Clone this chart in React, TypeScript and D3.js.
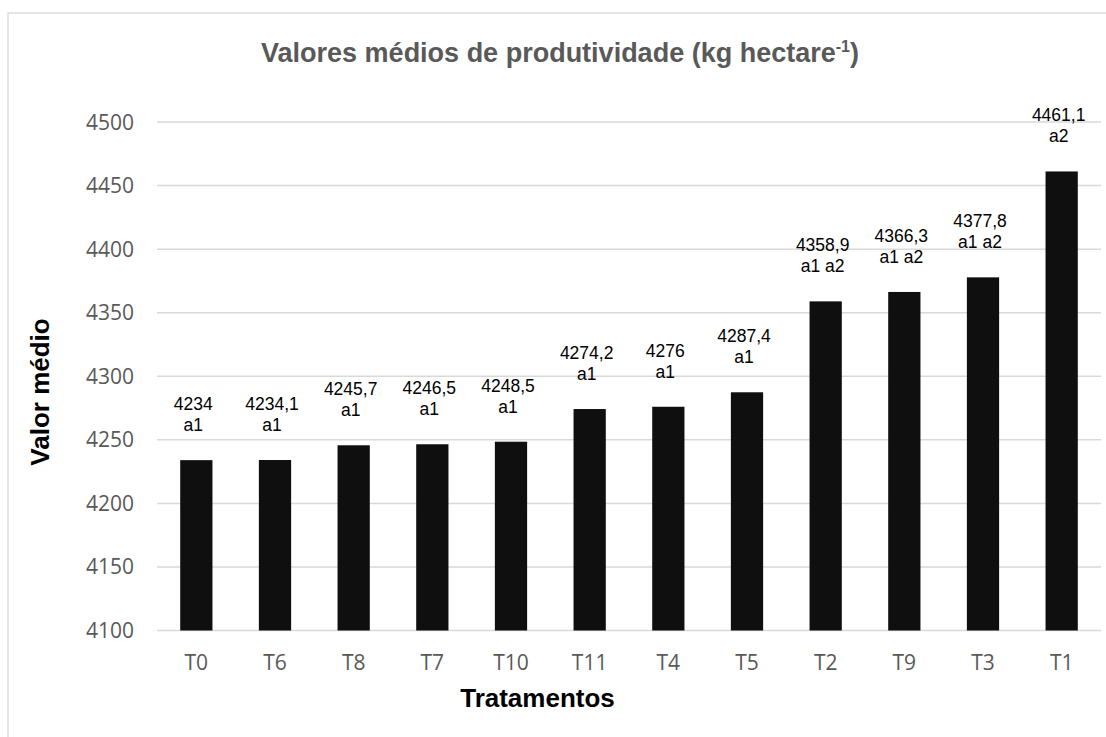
import React from "react";
import * as d3 from "d3";

const categories = ["T0", "T6", "T8", "T7", "T10", "T11", "T4", "T5", "T2", "T9", "T3", "T1"];
const values = [4234, 4234.1, 4245.7, 4246.5, 4248.5, 4274.2, 4276, 4287.4, 4358.9, 4366.3, 4377.8, 4461.1];
const valueLabels = ["4234", "4234,1", "4245,7", "4246,5", "4248,5", "4274,2", "4276", "4287,4", "4358,9", "4366,3", "4377,8", "4461,1"];
const groupLabels = ["a1", "a1", "a1", "a1", "a1", "a1", "a1", "a1", "a1 a2", "a1 a2", "a1 a2", "a2"];
const yTicks = [4100, 4150, 4200, 4250, 4300, 4350, 4400, 4450, 4500];

const W = 1106;
const H = 737;
const plot = { left: 157, right: 1101, top: 122, bottom: 630.5 };

export default function App() {
  const x = d3.scaleBand<string>().domain(categories).range([plot.left, plot.right]).paddingInner(0.59).paddingOuter(0.295);
  const y = d3.scaleLinear().domain([4100, 4500]).range([plot.bottom, plot.top]);
  const tickFont = "'Open Sans', sans-serif";
  const arial = "'Liberation Sans', Arial, sans-serif";
  return (
    <svg width={W} height={H} style={{ position: "absolute", left: 0, top: 0 }}>
      <rect x={0} y={0} width={W} height={H} fill="#fff" />
      <rect x={8} y={13} width={W + 20} height={H + 20} fill="none" stroke="#d9d9d9" strokeWidth={1.3} />
      <text x={560} y={62} textAnchor="middle" fontFamily={arial} fontWeight="bold" fontSize={27} fill="#595959">
        Valores médios de produtividade (kg hectare
        <tspan fontSize={16} dy={-10}>-1</tspan>
        <tspan dy={10}>)</tspan>
      </text>
      {yTicks.map((t) => (
        <g key={t}>
          <line x1={plot.left} x2={plot.right} y1={y(t)} y2={y(t)} stroke="#d9d9d9" strokeWidth={1.5} />
          <text x={134} y={y(t)} dy="0.36em" textAnchor="end" fontFamily={tickFont} fontSize={21} fill="#595959">
            {t}
          </text>
        </g>
      ))}
      {categories.map((c, i) => {
        const bx = x(c)!;
        const bw = x.bandwidth();
        const top = y(values[i]);
        const cx = bx + bw / 2 - 3;
        return (
          <g key={c}>
            <rect x={bx} y={top} width={bw} height={plot.bottom - top} fill="#0f0f0f" />
            <text x={cx} y={top - 50} textAnchor="middle" fontFamily={arial} fontSize={17.5} fill="#000">
              {valueLabels[i]}
            </text>
            <text x={cx} y={top - 29} textAnchor="middle" fontFamily={arial} fontSize={17.5} fill="#000">
              {groupLabels[i]}
            </text>
            <text x={bx + bw / 2} y={662} dy="0.36em" textAnchor="middle" fontFamily={tickFont} fontSize={21} fill="#595959">
              {c}
            </text>
          </g>
        );
      })}
      <text x={537.5} y={707} textAnchor="middle" fontFamily={arial} fontWeight="bold" fontSize={26} fill="#000">
        Tratamentos
      </text>
      <text transform="translate(49,392) rotate(-90)" textAnchor="middle" fontFamily={arial} fontWeight="bold" fontSize={26} fill="#000">
        Valor médio
      </text>
    </svg>
  );
}
